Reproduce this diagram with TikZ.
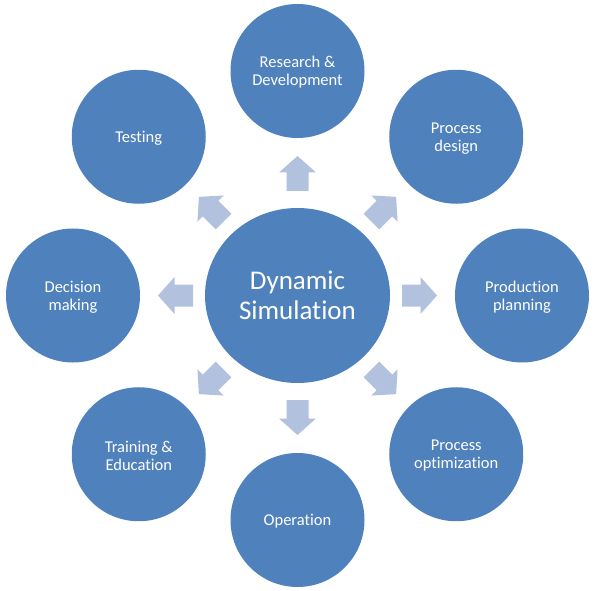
\documentclass[tikz,border=0pt]{standalone}
\usepackage{fontspec}
\setmainfont{Carlito}[Ligatures=NoCommon]
\definecolor{circblue}{RGB}{79,129,189}
\definecolor{arrowblue}{RGB}{178,193,222}
\tikzset{
  outer/.style={circle, fill=circblue, minimum size=134pt, inner sep=0pt,
    label={[align=center, text=white, font=\fontsize{16.5pt}{18pt}\selectfont, yshift=-1.5pt]center:#1}},
  hub/.style={ellipse, fill=circblue, minimum width=185pt, minimum height=175pt, inner sep=0pt,
    align=center, text=white, font=\fontsize{27pt}{30pt}\selectfont},
  blockarrow/.style={fill=arrowblue}
}
\usetikzlibrary{shapes.geometric}
\begin{document}
\begin{tikzpicture}[x=1pt,y=1pt]
\useasboundingbox (0,0) rectangle (595,-591);
\node[hub] (c) at (297.5,-295.5) {Dynamic\\Simulation};
\node[outer={Research \&\\Development}] (rd) at ([shift={(90:224.5)}]c) {};
\node[outer={Process\\design}] (pd) at ([shift={(45:224.5)}]c) {};
\node[outer={Production\\planning}] (pp) at ([shift={(0:224.5)}]c) {};
\node[outer={Process\\optimization}] (po) at ([shift={(-45:224.5)}]c) {};
\node[outer={Operation}] (op) at ([shift={(-90:224.5)}]c) {};
\node[outer={Training \&\\Education}] (te) at ([shift={(-135:224.5)}]c) {};
\node[outer={Decision\\making}] (dm) at ([shift={(180:224.5)}]c) {};
\node[outer={Testing}] (ts) at ([shift={(135:224.5)}]c) {};
\foreach \a in {0,45,...,315}{
  \fill[blockarrow, shift={(c.center)}, rotate=\a]
    (104.5,-11) -- (123,-11) -- (123,-18.5) -- (139.5,0) -- (123,18.5) -- (123,11) -- (104.5,11) -- cycle;
}
\end{tikzpicture}
\end{document}
